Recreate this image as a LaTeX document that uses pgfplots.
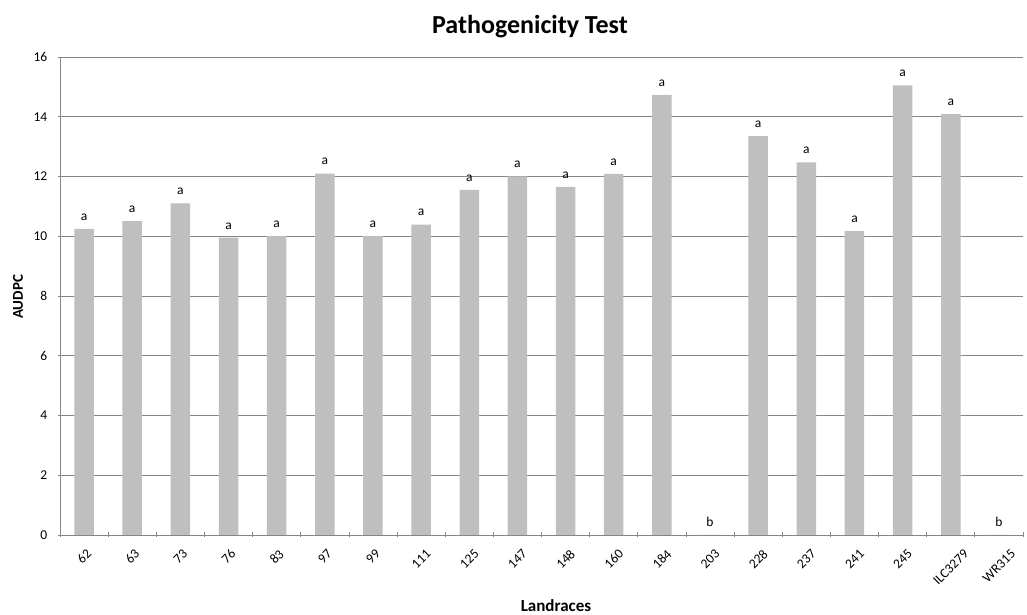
\documentclass[border=0pt]{standalone}
\usepackage{fontspec}
\setmainfont{Carlito}
\usepackage{graphicx}
\usepackage{pgfplots}
\pgfplotsset{compat=1.18}
\definecolor{barc}{HTML}{BFBFBF}
\definecolor{axc}{HTML}{868686}
\newcommand\rl[1]{\rotatebox{45}{#1}}
\begin{document}
\begin{tikzpicture}[x=1pt,y=1pt]
\useasboundingbox (0,0) rectangle (1027,615);
\begin{axis}[
  at={(60pt,80pt)}, anchor=south west,
  scale only axis, width=963pt, height=478pt,
  xmin=-0.5, xmax=19.5, ymin=0, ymax=16,
  ytick={0,2,...,16},
  xtick={0,...,19},
  xticklabels={\rl{62},\rl{63},\rl{73},\rl{76},\rl{83},\rl{97},\rl{99},\rl{111},\rl{125},\rl{147},\rl{148},\rl{160},\rl{184},\rl{203},\rl{228},\rl{237},\rl{241},\rl{245},\rl{ILC3279},\rl{WR315}},
  xtick style={draw=none},
  extra x ticks={-0.5,0.5,...,19.5},
  extra x tick labels={},
  extra x tick style={xtick style={draw=axc, line width=0.8pt}},
  ytick style={draw=axc, line width=0.8pt},
  tick align=outside, major tick length=5pt,
  axis lines=left, axis line style={axc, line width=0.8pt, -},
  ymajorgrids, grid style={axc, line width=0.8pt},
  /pgf/number format/assume math mode=true,
  tick label style={font=\fontsize{13.5}{16}\selectfont},
  yticklabel style={inner sep=0pt, xshift=-10pt},
  xticklabel style={anchor=north, inner sep=0pt, yshift=-11pt},
  title={Pathogenicity Test},
  title style={font=\bfseries\fontsize{26}{30}\selectfont, at={(axis description cs:0.488,1)}, anchor=base, yshift=17pt},
  xlabel={Landraces},
  xlabel style={font=\bfseries\fontsize{17}{20}\selectfont, at={(axis description cs:0.515,0)}, anchor=base, yshift=-76pt},
  ylabel={AUDPC},
  every axis y label/.style={font=\bfseries\fontsize{15}{18}\selectfont, at={(axis description cs:0,0.498)}, xshift=-42pt, anchor=center, rotate=90},
]
\addplot[ybar, bar width=19.5pt, fill=barc, draw=none,
  nodes near coords, point meta=explicit symbolic,
  nodes near coords style={font=\fontsize{13.5}{16}\selectfont, anchor=south, yshift=5pt}]
  table[x=x, y=y, meta=l] {
x y l
0 10.25 a
1 10.51 a
2 11.10 a
3 9.95 a
4 10.00 a
5 12.10 a
6 10.00 a
7 10.39 a
8 11.55 a
9 12.00 a
10 11.65 a
11 12.09 a
12 14.73 a
13 0 b
14 13.35 a
15 12.47 a
16 10.18 a
17 15.05 a
18 14.09 a
19 0 b
};
\end{axis}
\end{tikzpicture}
\end{document}
